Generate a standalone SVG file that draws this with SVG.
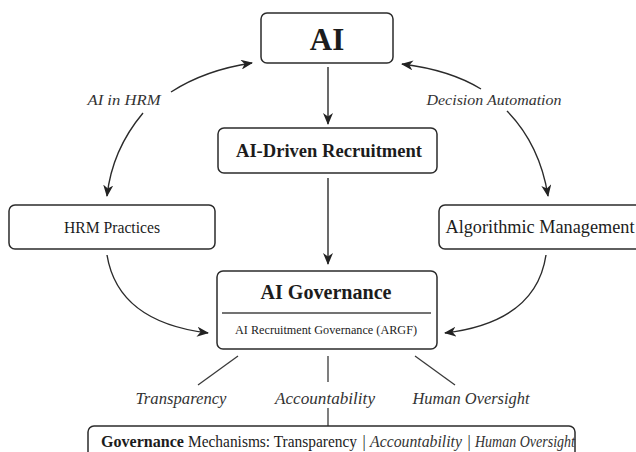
<svg xmlns="http://www.w3.org/2000/svg" width="636" height="452" viewBox="0 0 636 452">
<style>
.box{fill:#fff;stroke:#2b2b2b;stroke-width:1.5}
.t{font-family:"Liberation Serif","DejaVu Serif",serif;fill:#1c1c1c;text-anchor:middle;dominant-baseline:central}
.s{text-anchor:start}
.b{font-weight:bold}
.i{font-style:italic;fill:#333}
.c{fill:none;stroke:#2b2b2b;stroke-width:1.4}
.l{fill:none;stroke:#3a3a3a;stroke-width:1.3}
</style>
<defs>
<marker id="ah" viewBox="0 0 12 10" refX="11" refY="5" markerWidth="12" markerHeight="10" markerUnits="userSpaceOnUse" orient="auto">
<path d="M0,0 L12,5 L0,10 L3.5,5 z" fill="#222"/>
</marker>
</defs>
<rect width="636" height="452" fill="#fff"/>
<g id="connectors">
<line class="c" x1="328" y1="67" x2="328" y2="124" marker-end="url(#ah)"/>
<line class="c" x1="328" y1="178" x2="328" y2="264" marker-end="url(#ah)"/>
<path class="c" d="M171,92 Q205,70 252,63" marker-end="url(#ah)"/>
<path class="c" d="M143,113 Q112,150 107,196" marker-end="url(#ah)"/>
<path class="c" d="M481,89 Q450,70 402,64" marker-end="url(#ah)"/>
<path class="c" d="M507,111 Q540,145 548,196" marker-end="url(#ah)"/>
<path class="c" d="M107,255 Q118,322 208,333" marker-end="url(#ah)"/>
<path class="c" d="M546,255 Q536,322 445,333" marker-end="url(#ah)"/>
<line class="l" x1="238" y1="356" x2="198" y2="385"/>
<line class="l" x1="328" y1="356" x2="328" y2="382"/>
<line class="l" x1="415" y1="356" x2="455" y2="385"/>
<line class="l" x1="328" y1="408" x2="328" y2="426"/>
</g>
<g id="ai">
<rect class="box" x="261" y="13" width="132" height="50" rx="6"/>
<text class="t b" x="327" y="39" font-size="31">AI</text>
</g>
<g id="recruitment">
<rect class="box" x="218" y="128" width="219" height="45" rx="6"/>
<text class="t b" x="329" y="151" font-size="18" textLength="186" lengthAdjust="spacingAndGlyphs">AI-Driven Recruitment</text>
</g>
<g id="hrm">
<rect class="box" x="9" y="205" width="206" height="44" rx="6"/>
<text class="t" x="112" y="227" font-size="16" textLength="96" lengthAdjust="spacingAndGlyphs">HRM Practices</text>
</g>
<g id="algorithmic">
<rect class="box" x="439" y="205" width="205" height="44" rx="6"/>
<text class="t" x="540" y="227" font-size="18" textLength="189" lengthAdjust="spacingAndGlyphs">Algorithmic Management</text>
</g>
<g id="governance">
<rect class="box" x="217" y="271" width="220" height="78" rx="6"/>
<text class="t b" x="326" y="292" font-size="20" textLength="131" lengthAdjust="spacingAndGlyphs">AI Governance</text>
<line x1="222" y1="313" x2="431" y2="313" stroke="#444" stroke-width="1.4"/>
<text class="t" x="326" y="329" font-size="13" textLength="182" lengthAdjust="spacingAndGlyphs">AI Recruitment Governance (ARGF)</text>
</g>
<g id="labels">
<text class="t i" x="124" y="100" font-size="15" textLength="73" lengthAdjust="spacingAndGlyphs">AI  in HRM</text>
<text class="t i" x="494" y="100" font-size="15" textLength="135" lengthAdjust="spacingAndGlyphs">Decision Automation</text>
<text class="t i" x="181" y="398" font-size="16" textLength="91" lengthAdjust="spacingAndGlyphs">Transparency</text>
<text class="t i" x="325" y="398" font-size="16" textLength="100" lengthAdjust="spacingAndGlyphs">Accountability</text>
<text class="t i" x="471" y="398" font-size="16" textLength="117" lengthAdjust="spacingAndGlyphs">Human Oversight</text>
</g>
<g id="mechanisms">
<rect class="box" x="88" y="426" width="487" height="40" rx="6"/>
<text class="t s b" x="101" y="441" font-size="16" textLength="83" lengthAdjust="spacingAndGlyphs">Governance</text>
<text class="t s" x="188" y="441" font-size="16" textLength="169" lengthAdjust="spacingAndGlyphs">Mechanisms: Transparency</text>
<text class="t" x="364" y="441" font-size="16">|</text>
<text class="t s i" x="370" y="441" font-size="16" textLength="92" lengthAdjust="spacingAndGlyphs">Accountability</text>
<text class="t" x="469" y="441" font-size="16">|</text>
<text class="t s i" x="475" y="441" font-size="16" textLength="100" lengthAdjust="spacingAndGlyphs">Human Oversight</text>
</g>
</svg>
